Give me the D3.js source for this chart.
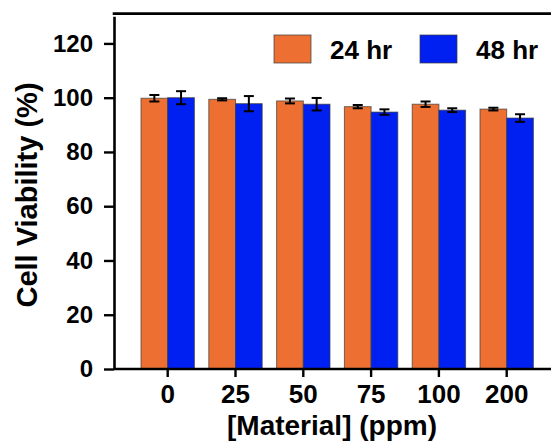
<!DOCTYPE html>
<html>
<head>
<meta charset="utf-8">
<script src="https://cdn.jsdelivr.net/npm/d3@7"></script>
<style>
  html, body { margin: 0; padding: 0; background: #fff; }
  svg { display: block; font-family: "Liberation Sans", Arial, Helvetica, sans-serif; font-weight: bold; }
</style>
</head>
<body>
<svg id="chart" width="551" height="441"></svg>
<script>
// Concentrations tested (ppm)
const categories = ["0", "25", "50", "75", "100", "200"];
// Mean cell viability (%) after each exposure time
const viability24 = [99.8, 99.4, 98.8, 96.7, 97.6, 95.8];
const viability48 = [100.0, 97.8, 97.6, 94.7, 95.4, 92.5];
// Standard deviations
const sd24 = [1.2, 0.4, 0.9, 0.6, 1.0, 0.5];
const sd48 = [2.4, 2.8, 2.3, 1.0, 0.7, 1.4];
const seriesNames = ["24 hr", "48 hr"];
const yTicks = [0, 20, 40, 60, 80, 100, 120];

const colors = ["#ED7032", "#0020F2"];
const series = [
  { name: seriesNames[0], values: viability24, sd: sd24, color: colors[0] },
  { name: seriesNames[1], values: viability48, sd: sd48, color: colors[1] }
];

const svg = d3.select("#chart");
const axisX0 = 114, axisX1 = 551;

const y = d3.scaleLinear().domain([0, 130]).range([369, 16.3]);
const x = d3.scaleBand().domain(categories).range([133.8, 540.6])
  .paddingInner(0.2124).paddingOuter(0.1062);
const xs = d3.scaleBand().domain(seriesNames).range([0, x.bandwidth()]);

// Bars
const groups = svg.append("g").selectAll("g")
  .data(categories).join("g")
  .attr("transform", d => `translate(${x(d)},0)`);

series.forEach(s => {
  groups.append("rect")
    .attr("x", xs(s.name))
    .attr("width", xs.bandwidth())
    .attr("y", (d, i) => y(s.values[i]))
    .attr("height", (d, i) => y(0) - y(s.values[i]))
    .attr("fill", s.color)
    .attr("stroke", "#3a3a3a")
    .attr("stroke-opacity", 0.7)
    .attr("stroke-width", 1);
});

// Error bars
series.forEach(s => {
  const cx = (d) => x(d) + xs(s.name) + xs.bandwidth() / 2;
  const eb = svg.append("g").attr("stroke", "#000").attr("stroke-width", 2);
  categories.forEach((c, i) => {
    const hi = y(s.values[i] + s.sd[i]), lo = y(s.values[i] - s.sd[i]);
    const cxv = cx(c);
    eb.append("line").attr("x1", cxv).attr("x2", cxv).attr("y1", hi).attr("y2", lo);
    eb.append("line").attr("x1", cxv - 5).attr("x2", cxv + 5).attr("y1", hi).attr("y2", hi);
    eb.append("line").attr("x1", cxv - 5).attr("x2", cxv + 5).attr("y1", lo).attr("y2", lo);
  });
});

// Y axis
const yAxis = svg.append("g")
  .attr("transform", `translate(${axisX0},0)`)
  .call(d3.axisLeft(y).tickValues(yTicks).tickSize(10).tickPadding(11).tickSizeOuter(0));
yAxis.select(".domain").attr("stroke-width", 2.6);
yAxis.selectAll(".tick line").attr("stroke-width", 2.4);
yAxis.selectAll(".tick text").attr("font-size", 24).attr("font-weight", "bold")
  .attr("font-family", "Liberation Sans, Arial, sans-serif").attr("fill", "#000");

// X axis
const xAxis = svg.append("g")
  .attr("transform", `translate(0,${y(0)})`)
  .call(d3.axisBottom(x).tickSize(8).tickPadding(8).tickSizeOuter(0));
xAxis.select(".domain").attr("d", `M${axisX0},0H${axisX1}`).attr("stroke-width", 2.6);
xAxis.selectAll(".tick line").attr("stroke-width", 2.4)
  .attr("transform", `translate(${-x.bandwidth() / 2 + xs.bandwidth()},0)`);
xAxis.selectAll(".tick text").attr("font-size", 26).attr("font-weight", "bold")
  .attr("font-family", "Liberation Sans, Arial, sans-serif").attr("fill", "#000");

// Top frame line
svg.append("line")
  .attr("x1", axisX0 - 1.3).attr("x2", axisX1)
  .attr("y1", y(131)).attr("y2", y(131))
  .attr("stroke", "#000").attr("stroke-width", 2.6);

// Axis titles
svg.append("text")
  .attr("x", 332).attr("y", 435)
  .attr("text-anchor", "middle")
  .attr("font-size", 28)
  .text("[Material] (ppm)");

svg.append("text")
  .attr("transform", "translate(37,195) rotate(-90)")
  .attr("text-anchor", "middle")
  .attr("font-size", 29)
  .text("Cell Viability (%)");

// Legend
const legend = svg.append("g");
const legendX = [274, 420];
series.forEach((s, i) => {
  legend.append("rect")
    .attr("x", legendX[i]).attr("y", 35)
    .attr("width", 37).attr("height", 28)
    .attr("fill", s.color)
    .attr("stroke", "#3a3a3a").attr("stroke-opacity", 0.7).attr("stroke-width", 1);
  legend.append("text")
    .attr("x", legendX[i] + 56).attr("y", 59)
    .attr("font-size", 26)
    .text(s.name);
});
</script>
</body>
</html>
